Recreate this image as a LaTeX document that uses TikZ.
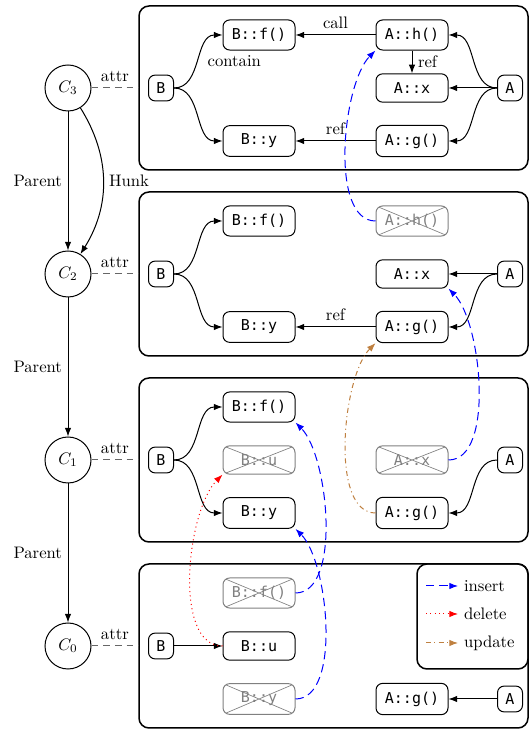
\documentclass[tikz,border=0pt]{standalone}
\usepackage{fontspec}
\setmonofont{DejaVu Sans Mono}
\usetikzlibrary{arrows.meta}

\begin{document}
\begin{tikzpicture}[x=0.6pt, y=0.6pt, semithick, >={Latex[length=5.2pt, width=3.9pt]},
    commit/.style={circle, draw, minimum size=27.6pt, inner sep=0pt},
    hunk/.style={draw, rounded corners=6pt, line width=0.9pt, minimum width=233.4pt, minimum height=98.4pt},
    ent/.style={draw, rounded corners=4pt, font=\ttfamily\small, minimum width=15pt, minimum height=15.5pt, inner sep=1pt},
    elem/.style={draw, rounded corners=4pt, font=\ttfamily\small, minimum width=43.2pt, minimum height=17pt, inner ysep=5pt},
    gone/.style={elem, draw=gray, text=gray, path picture={
        \draw[gray, thin] (path picture bounding box.north west) -- (path picture bounding box.south east)
                          (path picture bounding box.south west) -- (path picture bounding box.north east);}},
    attr/.style={draw=black!60, dash pattern=on 4pt off 3pt},
    ins/.style={->, blue, dash pattern=on 5pt off 3pt},
    del/.style={->, red, dotted},
    upd/.style={->, brown, dash dot}]
    \useasboundingbox (0,0) rectangle (529,729);

    \node[hunk] (h3) at (333.5,641) {};
    \node[hunk] (h2) at (333.5,455) {};
    \node[hunk] (h1) at (333.5,269) {};
    \node[hunk] (h0) at (333.5,83) {};

    \node[commit] (c3) at (68,641) {$C_3$};
    \node[commit] (c2) at (68,455) {$C_2$};
    \node[commit] (c1) at (68,269) {$C_1$};
    \node[commit] (c0) at (68,83) {$C_0$};

    \draw[->] (c3) -- node[midway,left]{Parent} (c2);
    \draw[->] (c2) -- node[midway,left]{Parent} (c1);
    \draw[->] (c1) -- node[midway,left]{Parent} (c0);
    \draw[->] (c3) to[bend left=32] node[midway,right]{Hunk} (c2);
    \draw[attr] (c3) -- node[midway,above,text=black]{attr} (h3.west);
    \draw[attr] (c2) -- node[midway,above,text=black]{attr} (h2.west);
    \draw[attr] (c1) -- node[midway,above,text=black]{attr} (h1.west);
    \draw[attr] (c0) -- node[midway,above,text=black]{attr} (h0.west);

    \node[ent] (b3) at (161,641) {B};
    \node[elem] (bf3) at (259,694) {B::f()};
    \node[elem] (by3) at (259,588) {B::y};
    \node[elem] (ah3) at (412,694) {A::h()};
    \node[elem] (ax3) at (412,641) {A::x};
    \node[elem] (ag3) at (412,588) {A::g()};
    \node[ent] (a3) at (510,641) {A};
    \draw[->] (b3) to[out=0,in=180] node[midway,right,xshift=2pt]{contain} (bf3);
    \draw[->] (b3) to[out=0,in=180] (by3);
    \draw[->] (ah3) -- node[midway,above]{call} (bf3);
    \draw[->] (ah3) -- node[midway,right]{ref} (ax3);
    \draw[->] (ag3) -- node[midway,above]{ref} (by3);
    \draw[->] (a3) to[out=180,in=0] (ah3);
    \draw[->] (a3) -- (ax3);
    \draw[->] (a3) to[out=180,in=0] (ag3);

    \node[ent] (b2) at (161,455) {B};
    \node[elem] (bf2) at (259,508) {B::f()};
    \node[elem] (by2) at (259,402) {B::y};
    \node[gone] (ah2) at (412,508) {A::h()};
    \node[elem] (ax2) at (412,455) {A::x};
    \node[elem] (ag2) at (412,402) {A::g()};
    \node[ent] (a2) at (510,455) {A};
    \draw[->] (b2) to[out=0,in=180] (bf2);
    \draw[->] (b2) to[out=0,in=180] (by2);
    \draw[->] (ag2) -- node[midway,above]{ref} (by2);
    \draw[->] (a2) -- (ax2);
    \draw[->] (a2) to[out=180,in=0] (ag2);

    \node[ent] (b1) at (161,269) {B};
    \node[elem] (bf1) at (259,322) {B::f()};
    \node[gone] (bu1) at (259,269) {B::u};
    \node[elem] (by1) at (259,216) {B::y};
    \node[gone] (ax1) at (412,269) {A::x};
    \node[elem] (ag1) at (412,216) {A::g()};
    \node[ent] (a1) at (510,269) {A};
    \draw[->] (b1) to[out=0,in=180] (bf1);
    \draw[->] (b1) to[out=0,in=180] (by1);
    \draw[->] (a1) to[out=180,in=0] (ag1);

    \node[ent] (b0) at (161,83) {B};
    \node[gone] (bf0) at (259,136) {B::f()};
    \node[elem] (bu0) at (259,83) {B::u};
    \node[gone] (by0) at (259,30) {B::y};
    \node[elem] (ag0) at (412,30) {A::g()};
    \node[ent] (a0) at (510,30) {A};
    \draw[->] (b0) -- (bu0);
    \draw[->] (a0) -- (ag0);

    \draw[ins] (ah2) to[out=180,in=-135,looseness=0.7] (ah3.south west);
    \draw[ins] (ax1) to[out=0,in=-45,looseness=0.7] (ax2.south east);
    \draw[upd] (ag1) to[out=180,in=-135,looseness=0.7] (ag2.south west);
    \draw[ins] (bf0) to[out=0,in=-45,looseness=0.7] (bf1.south east);
    \draw[ins] (by0) to[out=0,in=-45,looseness=0.7] (by1.south east);
    \draw[del] (bu0) to[out=180,in=-135,looseness=0.75] (bu1.south west);

    \node[draw, rounded corners=6pt, line width=0.9pt, anchor=north east, minimum width=66.6pt, minimum height=63pt] (key) at (h0.north east) {};
    \node[anchor=west] (kins) at (458,143) {insert};
    \node[anchor=west] (kdel) at (458,115) {delete};
    \node[anchor=west] (kupd) at (458,86) {update};
    \draw[ins] (426,143) -- (kins);
    \draw[del] (426,115) -- (kdel);
    \draw[upd] (426,86) -- (kupd);
\end{tikzpicture}
\end{document}
